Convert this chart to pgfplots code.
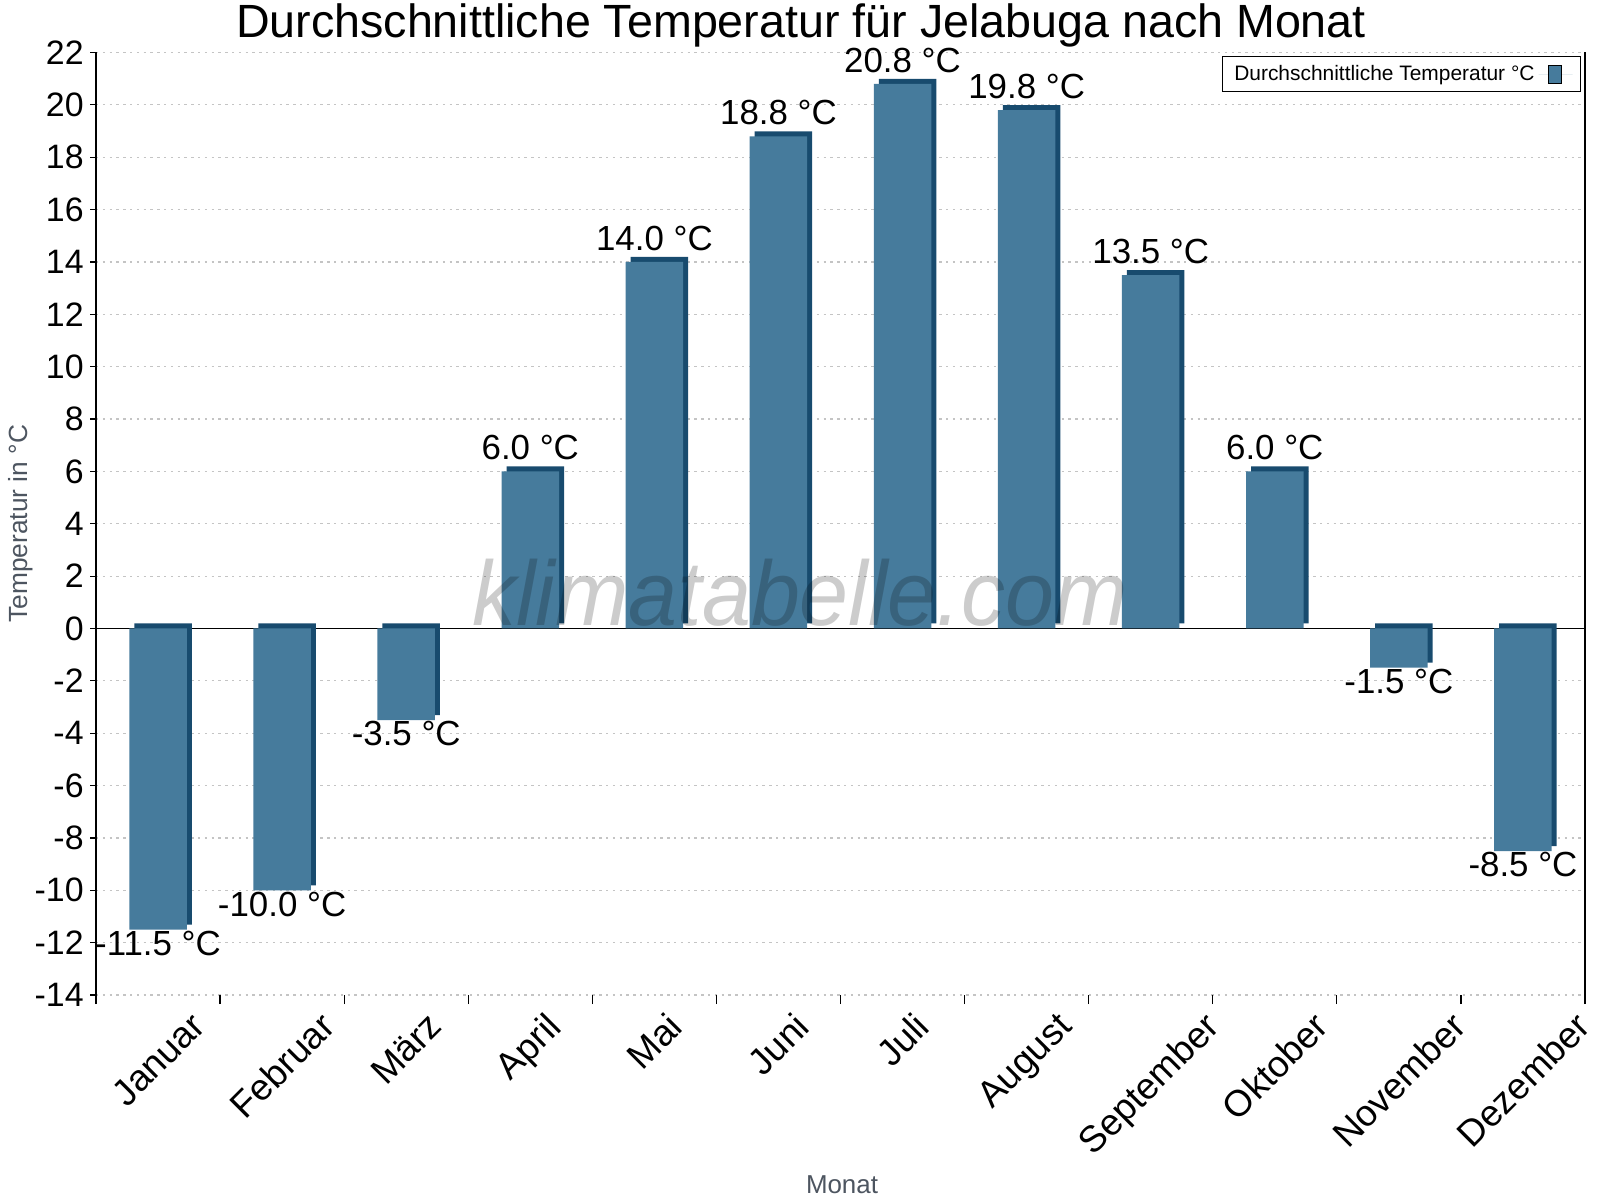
\documentclass[border=0pt]{standalone}
\usepackage{pgfplots}
\pgfplotsset{compat=1.18}
\usepackage{pgfplotstable}
\usepackage{graphicx}
\usepackage{fontspec}
\setmainfont{Liberation Sans}
\newfontfamily\wmfont[FakeStretch=0.96]{Liberation Sans}

\definecolor{barfront}{HTML}{467B9C}
\definecolor{barside}{HTML}{184B6E}
\definecolor{labelgray}{HTML}{4D5560}
\definecolor{gridgray}{HTML}{C4C4C4}

\newcommand{\R}[1]{\rotatebox{45}{#1}}

% monthly mean temperature
\pgfplotstableread{
x v label
0 -11.5 {-11.5 °C}
1 -10.0 {-10.0 °C}
2 -3.5 {-3.5 °C}
3 6.0 {6.0 °C}
4 14.0 {14.0 °C}
5 18.8 {18.8 °C}
6 20.8 {20.8 °C}
7 19.8 {19.8 °C}
8 13.5 {13.5 °C}
9 6.0 {6.0 °C}
10 -1.5 {-1.5 °C}
11 -8.5 {-8.5 °C}
}\temps

\begin{document}
\begin{tikzpicture}
\useasboundingbox (0,0) rectangle (800bp,600bp);
\begin{axis}[
    at={(48bp,102.5bp)}, anchor=south west,
    scale only axis, width=744.5bp, height=471.25bp,
    clip=false,
    xmin=-0.5, xmax=11.5, ymin=-14, ymax=22,
    xtick={0,...,11},
    xticklabels={\R{Januar},\R{Februar},\R{März},\R{April},\R{Mai},\R{Juni},\R{Juli},\R{August},\R{September},\R{Oktober},\R{November},\R{Dezember}},
    minor xtick={-0.5,0.5,...,11.5},
    ytick={-14,-12,...,22},
    yticklabels={-14,-12,-10,-8,-6,-4,-2,0,2,4,6,8,10,12,14,16,18,20,22},
    xtick pos=left, ytick pos=left,
    tick align=outside,
    major tick length=3bp, minor tick length=4.5bp,
    every major x tick/.append style={draw=none},
    every minor x tick/.append style={black, line width=0.6bp},
    every major y tick/.append style={black, line width=0.6bp},
    separate axis lines,
    x axis line style={draw=none},
    y axis line style={black, line width=0.6bp},
    ymajorgrids,
    major grid style={gridgray, line width=0.6bp, dash pattern=on 1.2bp off 2.2bp},
    extra y ticks={0}, extra y tick labels={},
    extra y tick style={grid=major, major grid style={draw=black, solid, line width=0.6bp}},
    xticklabel style={anchor=north, inner sep=0pt, yshift=-4.5bp, font=\fontsize{18.5}{18.5}\selectfont},
    yticklabel style={anchor=east, inner sep=0pt, xshift=-3bp, font=\fontsize{17}{17}\selectfont},
    xlabel={Monat},
    ylabel={Temperatur in °C},
    every axis x label/.style={at={(axis description cs:0.501,-0.2016)}, anchor=center, text=labelgray, font=\fontsize{13}{13}\selectfont},
    every axis y label/.style={at={(axis description cs:-0.0504,0.5)}, anchor=center, rotate=90, text=labelgray, font=\fontsize{13.2}{13.2}\selectfont},
    legend style={at={(1,1)}, anchor=north east, xshift=-2bp, yshift=-2bp, draw=black, line width=0.5bp,
        font=\fontsize{10.5}{12}\selectfont, inner xsep=4bp, inner ysep=2bp},
    legend plot pos=right,
    legend image code/.code={\path (0bp,0bp) -- (17bp,0bp);
        \draw[black, line width=0.4bp, fill=barfront] (5bp,-4.5bp) rectangle (11.5bp,4.5bp);},
]
% side and top faces
\addplot[ybar, bar width=28.75bp, bar shift=2.5bp, yshift=2.5bp, fill=barside, draw=none, forget plot]
    table[x=x, y=v]{\temps};
% front faces
\addplot[ybar, bar width=28.75bp, bar shift=0bp, fill=barfront, draw=none]
    table[x=x, y=v]{\temps};
\addlegendentry{Durchschnittliche Temperatur °C}
% value labels
\addplot[draw=none, mark=none, forget plot, restrict y to domain=0:40,
    nodes near coords, point meta=explicit symbolic,
    nodes near coords style={anchor=south, inner sep=0pt, yshift=5.5bp, font=\fontsize{17.5}{17.5}\selectfont}]
    table[x=x, y=v, meta=label]{\temps};
\addplot[draw=none, mark=none, forget plot, restrict y to domain=-40:-0.01,
    nodes near coords, point meta=explicit symbolic,
    nodes near coords style={anchor=north, inner sep=0pt, yshift=-0.5bp, font=\fontsize{17.5}{17.5}\selectfont}]
    table[x=x, y=v, meta=label]{\temps};
\end{axis}
\node[anchor=base, font=\fontsize{23.4}{23.4}\selectfont] at (400.5bp,581bp)
    {Durchschnittliche Temperatur für Jelabuga nach Monat};
\node[anchor=base, text=black, opacity=0.2, font=\wmfont\itshape\fontsize{46}{46}\selectfont] at (400bp,287bp)
    {klimatabelle.com};
\end{tikzpicture}
\end{document}
